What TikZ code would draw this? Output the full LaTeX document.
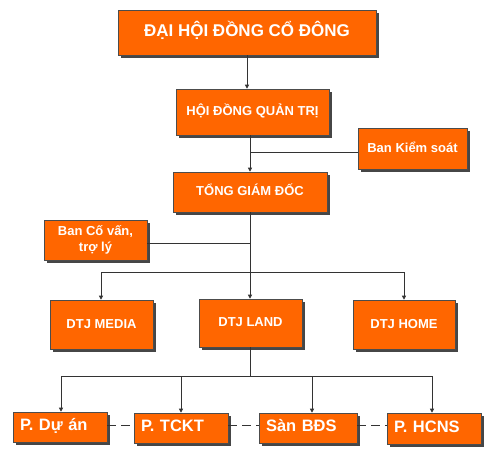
\documentclass[tikz,border=0pt]{standalone}
\usepackage{fontspec}
\setmainfont{Liberation Sans}
\usetikzlibrary{shadows,arrows.meta}
\definecolor{orbox}{RGB}{255,102,0}
\definecolor{shcol}{RGB}{70,70,70}
\tikzset{
  box/.style={draw=black!70,line width=0.6pt,fill=orbox,text=white,
    drop shadow={shadow xshift=3pt,shadow yshift=-3pt,fill=shcol,opacity=1},
    inner sep=0pt,align=center,font=\bfseries\fontsize{13}{16.5}\selectfont},
  oneline/.style={text height=0.72em,text depth=0pt},
  bottombox/.style={box,oneline,minimum height=30pt,align=left,
    font=\bfseries\fontsize{16.5}{18}\selectfont},
  conn/.style={line width=0.8pt,draw=black!80},
  arr/.style={conn,-{Triangle[length=4pt,width=4pt]}},
  dashline/.style={conn,dash pattern=on 9pt off 5pt}
}
\begin{document}
\begin{tikzpicture}[x=1pt,y=-1pt]
\useasboundingbox (0,0) rectangle (492,456);
\fill[white] (0,0) rectangle (492,456);
% boxes
\node[box,oneline,minimum width=258pt,minimum height=45pt,font=\bfseries\fontsize{17}{19}\selectfont] (dhd) at (247,32.5) {ĐẠI HỘI ĐỒNG CỔ ĐÔNG};
\node[box,oneline,minimum width=153pt,minimum height=46pt] (hdqt) at (252.5,112) {HỘI ĐỒNG QUẢN TRỊ};
\node[box,oneline,minimum width=109pt,minimum height=41pt] (bks) at (412.5,148.5) {Ban Kiểm soát};
\node[box,oneline,minimum width=154pt,minimum height=40pt] (tgd) at (250,192) {TỔNG GIÁM ĐỐC};
\node[box,minimum width=103pt,minimum height=40pt] (bcv) at (95.5,240) {Ban Cố vấn,\\trợ lý};
\node[box,oneline,minimum width=103pt,minimum height=49pt] (media) at (101.5,324.5) {DTJ MEDIA};
\node[box,oneline,minimum width=103pt,minimum height=48pt,yshift=-0pt] (land) at (250.5,323) {DTJ LAND};
\node[box,oneline,minimum width=102pt,minimum height=49pt] (home) at (404,324.5) {DTJ HOME};
\node[bottombox,minimum width=94pt,text width=80pt] (pda) at (60,427) {P. Dự án};
\node[bottombox,minimum width=94pt,text width=80pt] (tckt) at (181,428) {P. TCKT};
\node[bottombox,minimum width=98pt,text width=84pt] (san) at (308,428) {Sàn BĐS};
\node[bottombox,minimum width=94pt,minimum height=31pt,text width=80pt] (hcns) at (434,428.5) {P. HCNS};
% coordinates
\coordinate (j1) at (250,152);
\coordinate (j2) at (250,243);
\coordinate (j3) at (250,272);
\coordinate (l3) at (101,272);
\coordinate (r3) at (404,272);
\coordinate (j4) at (250,376);
\coordinate (b1) at (61,376);
\coordinate (b2) at (181,376);
\coordinate (b3) at (312,376);
\coordinate (b4) at (432,376);
\coordinate (dy) at (0,425);
% connectors
\draw[arr] (dhd.south) -- (hdqt.north -| dhd.south);
\draw[arr] (hdqt.south -| j1) -- (tgd.north -| j1);
\draw[conn] (bks.west |- j1) -- (j1);
\draw[conn] (tgd.south -| j2) -- (j3);
\draw[conn] (bcv.east |- j2) -- (j2);
\draw[conn] (l3) -- (r3);
\draw[arr] (l3) -- (l3 |- media.north);
\draw[arr] (j3) -- (j3 |- land.north);
\draw[arr] (r3) -- (r3 |- home.north);
\draw[conn] (land.south -| j4) -- (j4);
\draw[conn] (b1) -- (b4);
\draw[arr] (b1) -- (b1 |- pda.north);
\draw[arr] (b2) -- (b2 |- tckt.north);
\draw[arr] (b3) -- (b3 |- san.north);
\draw[arr] (b4) -- (b4 |- hcns.north);
\draw[dashline] (pda.east |- dy) -- (tckt.west |- dy);
\draw[dashline] (tckt.east |- dy) -- (san.west |- dy);
\draw[dashline] (san.east |- dy) -- (hcns.west |- dy);
\end{tikzpicture}
\end{document}
